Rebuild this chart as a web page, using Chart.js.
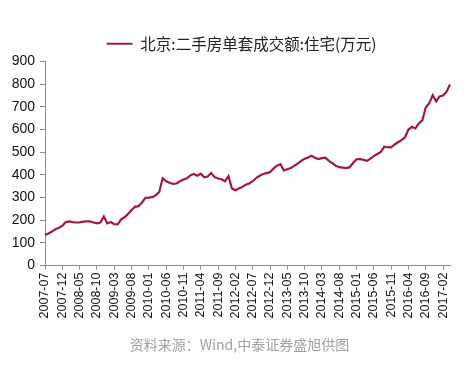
<!DOCTYPE html>
<html>
<head>
<meta charset="utf-8">
<script src="https://cdn.jsdelivr.net/npm/chart.js@4.4.1/dist/chart.umd.min.js"></script>
<style>
  html, body { margin: 0; padding: 0; background: #fff; }
  canvas { display: block; }
</style>
</head>
<body>
<canvas id="chart" width="468" height="366"></canvas>
<script>
// monthly, 2007-07 .. 2017-04
const startYear = 2007;
const startMonth = 7;
const seriesName = '北京:二手房单套成交额:住宅(万元)';
const sourceNote = '资料来源：Wind,中泰证券盛旭供图';

const values = [
  135, 142, 150, 160, 167, 175, 192, 195, 192, 190, 191, 194,
  195, 195, 190, 186, 190, 216, 186, 192, 183, 182, 204, 213,
  228, 245, 259, 262, 278, 299, 300, 302, 310, 325, 385, 372,
  365, 360, 362, 372, 380, 385, 398, 404, 396, 405, 389, 393,
  408, 390, 384, 381, 372, 395, 340, 332, 340, 347, 357, 362,
  372, 386, 396, 404, 408, 412, 428, 441, 447, 420, 425, 430,
  440, 450, 462, 471, 477, 484, 476, 470, 474, 476, 462, 452,
  440, 434, 432, 430, 434, 452, 469, 470, 466, 462, 472, 483,
  492, 501, 524, 522, 521, 534, 544, 553, 566, 600, 612, 605,
  627, 640, 697, 716, 751, 724, 746, 750, 767, 799
];

const yTicks = [0, 100, 200, 300, 400, 500, 600, 700, 800, 900];
const labelEvery = 5;

const labels = [];
for (let i = 0; i < values.length; i++) {
  const n = startMonth - 1 + i;
  const y = startYear + Math.floor(n / 12);
  const m = (n % 12) + 1;
  labels.push(y + '-' + String(m).padStart(2, '0'));
}

const lineColor = '#A0164A';
const axisColor = '#8c8c8c';

// legend and source line sit a bit right of the canvas centre in the original
const nudgeBoxes = {
  id: 'nudgeBoxes',
  afterLayout(chart) {
    chart.boxes.forEach(b => {
      if (b === chart.legend) {
        b.left += 12; b.right += 12;
      } else if (b.options && b.options.text === sourceNote) {
        b.left += 10; b.right += 10;
      }
    });
  },
};

new Chart(document.getElementById('chart').getContext('2d'), {
  type: 'line',
  data: {
    labels: labels,
    datasets: [{
      label: seriesName,
      data: values,
      borderColor: lineColor,
      backgroundColor: lineColor,
      borderWidth: 2.2,
      pointRadius: 0,
      tension: 0,
      fill: false,
    }],
  },
  options: {
    responsive: false,
    animation: false,
    layout: { padding: { left: 0, right: 9, top: 30, bottom: 13 } },
    plugins: {
      legend: {
        position: 'top',
        labels: {
          usePointStyle: true,
          pointStyle: 'line',
          pointStyleWidth: 26,
          padding: 6,
          color: '#222',
          font: { family: '"Noto Sans CJK SC", sans-serif', size: 15.5 },
        },
      },
      subtitle: {
        display: true,
        position: 'bottom',
        text: sourceNote,
        color: '#a0a0a0',
        padding: 0,
        font: { family: '"Noto Sans CJK SC", sans-serif', size: 14, weight: 'normal' },
      },
      tooltip: { enabled: false },
    },
    scales: {
      x: {
        offset: false,
        grid: {
          drawOnChartArea: false,
          tickLength: 4,
          color: ctx => (ctx.index % labelEvery === 0 ? axisColor : 'rgba(0,0,0,0)'),
        },
        border: { display: true, color: axisColor },
        ticks: {
          autoSkip: false,
          minRotation: 90,
          maxRotation: 90,
          padding: 3,
          color: '#111',
          font: { family: '"Liberation Sans", Arial, sans-serif', size: 12.5 },
          callback: (val, idx) => (idx % labelEvery === 0 ? labels[idx] : ''),
        },
        afterFit: scale => { scale.height = 70.6; },
      },
      y: {
        min: yTicks[0],
        max: yTicks[yTicks.length - 1],
        grid: { drawOnChartArea: false, tickLength: 5, color: axisColor },
        border: { display: true, color: axisColor },
        ticks: {
          stepSize: 100,
          padding: 5,
          color: '#111',
          font: { family: '"Liberation Sans", Arial, sans-serif', size: 14 },
        },
        afterFit: scale => { scale.width = 45; },
      },
    },
  },
  plugins: [nudgeBoxes],
});
</script>
</body>
</html>
